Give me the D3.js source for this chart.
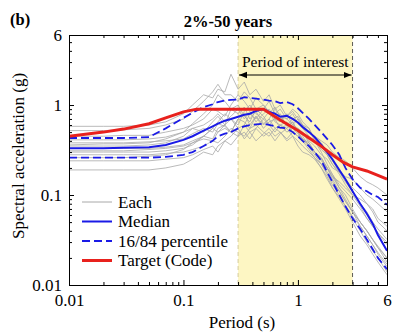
<!DOCTYPE html>
<html>
<head>
<meta charset="utf-8">
<script src="https://cdn.jsdelivr.net/npm/d3@7"></script>
<style>
  body { margin: 0; background: #fff; }
  svg text { font-family: "Liberation Serif", "DejaVu Serif", serif !important; fill: #000; }
</style>
</head>
<body>
<svg id="chart" width="395" height="333" font-family="Liberation Serif"></svg>
<script>
// periods (s) shared by every record, median and percentiles
var periods = [0.01, 0.02, 0.03, 0.05, 0.07, 0.1, 0.12, 0.15, 0.18, 0.2, 0.23, 0.26, 0.3, 0.34, 0.38, 0.43, 0.5, 0.56, 0.63, 0.7, 0.8, 0.9, 1, 1.1, 1.25, 1.4, 1.6, 1.8, 2, 2.3, 2.6, 3, 3.5, 4, 4.5, 5, 6];

var records = [
	[0.58, 0.58, 0.58, 0.6, 0.65, 0.8, 1.0, 1.3, 1.2, 1.5, 1.4, 2.2, 1.5, 1.8, 1.3, 1.5, 1.1, 1.3, 0.9, 1.0, 0.75, 0.85, 0.7, 0.6, 0.55, 0.42, 0.35, 0.28, 0.22, 0.18, 0.14, 0.11, 0.08, 0.065, 0.05, 0.042, 0.032],
	[0.52, 0.52, 0.53, 0.55, 0.6, 0.7, 0.85, 1.1, 1.4, 1.7, 1.3, 1.3, 1.1, 1.4, 1.2, 0.9, 1.0, 0.8, 0.95, 0.75, 0.7, 0.8, 0.62, 0.55, 0.5, 0.45, 0.4, 0.36, 0.3, 0.26, 0.24, 0.2, 0.16, 0.14, 0.13, 0.12, 0.1],
	[0.45, 0.45, 0.46, 0.46, 0.5, 0.55, 0.6, 0.7, 0.9, 0.85, 0.75, 1.0, 1.3, 1.1, 0.9, 1.2, 1.0, 0.85, 0.8, 0.9, 0.7, 0.6, 0.55, 0.5, 0.38, 0.3, 0.26, 0.2, 0.16, 0.12, 0.1, 0.07, 0.05, 0.04, 0.032, 0.026, 0.018],
	[0.41, 0.41, 0.41, 0.42, 0.44, 0.5, 0.55, 0.6, 0.7, 0.8, 0.65, 0.75, 0.9, 0.7, 0.85, 0.65, 0.8, 0.9, 0.7, 0.65, 0.8, 0.6, 0.7, 0.55, 0.45, 0.4, 0.32, 0.28, 0.22, 0.17, 0.13, 0.1, 0.075, 0.055, 0.045, 0.038, 0.03],
	[0.38, 0.38, 0.38, 0.39, 0.4, 0.42, 0.48, 0.55, 0.5, 0.62, 0.58, 0.5, 0.7, 0.8, 0.6, 0.75, 0.55, 0.65, 0.7, 0.55, 0.6, 0.5, 0.55, 0.45, 0.35, 0.3, 0.26, 0.2, 0.15, 0.11, 0.085, 0.065, 0.05, 0.04, 0.032, 0.027, 0.02],
	[0.35, 0.35, 0.35, 0.36, 0.38, 0.45, 0.55, 0.5, 0.65, 0.75, 0.6, 0.9, 1.0, 0.75, 0.65, 0.9, 0.75, 0.6, 0.72, 0.8, 0.58, 0.65, 0.5, 0.42, 0.38, 0.3, 0.24, 0.2, 0.16, 0.14, 0.12, 0.1, 0.09, 0.08, 0.07, 0.055, 0.045],
	[0.33, 0.33, 0.33, 0.33, 0.34, 0.36, 0.4, 0.45, 0.55, 0.5, 0.6, 0.7, 0.55, 0.6, 0.8, 0.7, 0.9, 1.1, 0.8, 0.7, 0.75, 0.9, 0.8, 0.65, 0.55, 0.4, 0.3, 0.22, 0.17, 0.12, 0.09, 0.065, 0.045, 0.035, 0.028, 0.022, 0.016],
	[0.31, 0.31, 0.31, 0.32, 0.33, 0.35, 0.38, 0.42, 0.4, 0.5, 0.55, 0.5, 0.45, 0.6, 0.5, 0.55, 0.7, 0.6, 0.5, 0.6, 0.65, 0.5, 0.45, 0.5, 0.4, 0.35, 0.28, 0.25, 0.2, 0.18, 0.16, 0.15, 0.12, 0.1, 0.09, 0.08, 0.065],
	[0.3, 0.3, 0.3, 0.3, 0.31, 0.33, 0.36, 0.45, 0.55, 0.65, 0.8, 0.7, 0.6, 0.85, 1.0, 0.8, 0.7, 0.85, 0.65, 0.6, 0.55, 0.65, 0.5, 0.42, 0.34, 0.28, 0.22, 0.17, 0.13, 0.1, 0.075, 0.055, 0.04, 0.03, 0.024, 0.02, 0.014],
	[0.28, 0.28, 0.28, 0.28, 0.29, 0.3, 0.32, 0.35, 0.4, 0.38, 0.45, 0.55, 0.5, 0.45, 0.55, 0.6, 0.5, 0.45, 0.55, 0.5, 0.4, 0.45, 0.35, 0.3, 0.28, 0.25, 0.2, 0.15, 0.12, 0.09, 0.07, 0.05, 0.035, 0.028, 0.022, 0.018, 0.013],
	[0.26, 0.26, 0.26, 0.27, 0.28, 0.32, 0.38, 0.45, 0.42, 0.55, 0.6, 0.5, 0.7, 0.65, 0.55, 0.75, 0.6, 0.7, 0.9, 0.75, 0.6, 0.7, 0.75, 0.6, 0.5, 0.45, 0.38, 0.3, 0.24, 0.18, 0.15, 0.12, 0.1, 0.08, 0.065, 0.05, 0.04],
	[0.24, 0.24, 0.24, 0.24, 0.25, 0.26, 0.28, 0.32, 0.35, 0.3, 0.4, 0.45, 0.55, 0.42, 0.5, 0.4, 0.48, 0.55, 0.45, 0.5, 0.42, 0.5, 0.45, 0.4, 0.32, 0.26, 0.2, 0.16, 0.12, 0.095, 0.075, 0.058, 0.045, 0.035, 0.028, 0.023, 0.017],
	[0.19, 0.19, 0.19, 0.19, 0.2, 0.22, 0.25, 0.3, 0.28, 0.35, 0.4, 0.36, 0.45, 0.5, 0.42, 0.55, 0.45, 0.5, 0.4, 0.48, 0.55, 0.45, 0.4, 0.35, 0.3, 0.26, 0.22, 0.18, 0.14, 0.11, 0.085, 0.065, 0.05, 0.04, 0.032, 0.026, 0.02],
	[0.36, 0.37, 0.37, 0.38, 0.42, 0.5, 0.62, 0.8, 1.0, 1.3, 1.1, 0.9, 0.8, 0.95, 0.7, 0.85, 0.62, 0.7, 0.55, 0.6, 0.5, 0.55, 0.48, 0.42, 0.36, 0.3, 0.25, 0.2, 0.17, 0.13, 0.11, 0.09, 0.07, 0.055, 0.045, 0.038, 0.028]
];

var median = [0.33, 0.33, 0.335, 0.34, 0.36, 0.41, 0.45, 0.52, 0.58, 0.62, 0.67, 0.7, 0.74, 0.78, 0.8, 0.86, 0.9, 0.84, 0.8, 0.74, 0.76, 0.7, 0.64, 0.57, 0.5, 0.44, 0.36, 0.3, 0.25, 0.19, 0.15, 0.11, 0.08, 0.062, 0.048, 0.036, 0.024];
var p84 = [0.43, 0.43, 0.43, 0.44, 0.55, 0.72, 0.82, 0.95, 1.02, 1.08, 1.12, 1.14, 1.15, 1.22, 1.2, 1.18, 1.15, 1.12, 1.1, 1.05, 1.08, 1.02, 0.92, 0.82, 0.7, 0.6, 0.5, 0.42, 0.36, 0.28, 0.2, 0.15, 0.12, 0.11, 0.1, 0.095, 0.078];
var p16 = [0.26, 0.26, 0.26, 0.26, 0.265, 0.28, 0.3, 0.35, 0.4, 0.45, 0.48, 0.5, 0.55, 0.58, 0.6, 0.61, 0.62, 0.6, 0.58, 0.56, 0.55, 0.5, 0.45, 0.4, 0.35, 0.3, 0.24, 0.18, 0.14, 0.1, 0.075, 0.055, 0.042, 0.032, 0.025, 0.02, 0.015];

var targetPeriods = [0.01, 0.02, 0.03, 0.05, 0.07, 0.1, 0.13, 0.5, 0.7, 1, 1.5, 2, 2.5, 3, 4, 5, 6];
var target = [0.45, 0.5, 0.54, 0.62, 0.72, 0.84, 0.9, 0.9, 0.68, 0.52, 0.37, 0.28, 0.23, 0.205, 0.185, 0.165, 0.15];

var interest = [0.3, 3];
var xTicks = [0.01, 0.1, 1, 6];
var yTicks = [0.01, 0.1, 1, 6];
var legendLabels = ["Each", "Median", "16/84 percentile", "Target (Code)"];

var serif = "Liberation Serif, DejaVu Serif, serif";
var margin = {left: 69, right: 8, top: 35, bottom: 48};
var width = 395 - margin.left - margin.right;
var height = 333 - margin.top - margin.bottom;

var svg = d3.select("#chart");
var g = svg.append("g").attr("transform", "translate(" + margin.left + "," + margin.top + ")");

var x = d3.scaleLog().domain([0.01, 6]).range([0, width]);
var y = d3.scaleLog().domain([0.01, 6]).range([height, 0]);

svg.append("defs").append("clipPath").attr("id", "plotclip")
	.append("rect").attr("width", width).attr("height", height);

// period of interest band
g.append("rect")
	.attr("x", x(interest[0]))
	.attr("y", 0)
	.attr("width", x(interest[1]) - x(interest[0]))
	.attr("height", height)
	.attr("fill", "#fdf6c3");
g.append("line")
	.attr("x1", x(interest[0])).attr("x2", x(interest[0]))
	.attr("y1", 0).attr("y2", height)
	.attr("stroke", "#c9c08a").attr("stroke-width", 0.8).attr("stroke-dasharray", "4,3");
g.append("line")
	.attr("x1", x(interest[1])).attr("x2", x(interest[1]))
	.attr("y1", 0).attr("y2", height)
	.attr("stroke", "#333").attr("stroke-width", 0.8).attr("stroke-dasharray", "4,3");

var line = d3.line()
	.x(function(d) { return x(d[0]); })
	.y(function(d) { return y(d[1]); });

function pairs(ps, vs) {
	return ps.map(function(p, i) { return [p, vs[i]]; });
}

var curves = g.append("g").attr("clip-path", "url(#plotclip)");

curves.selectAll(".each")
	.data(records)
	.enter().append("path")
	.attr("class", "each")
	.attr("d", function(r) { return line(pairs(periods, r)); })
	.attr("fill", "none")
	.attr("stroke", "#a8a8a8")
	.attr("stroke-width", 0.8);

[p84, p16].forEach(function(s) {
	curves.append("path")
		.attr("d", line(pairs(periods, s)))
		.attr("fill", "none")
		.attr("stroke", "#1a1ae6")
		.attr("stroke-width", 1.8)
		.attr("stroke-dasharray", "8,4");
});

curves.append("path")
	.attr("d", line(pairs(periods, median)))
	.attr("fill", "none")
	.attr("stroke", "#1a1ae6")
	.attr("stroke-width", 2);

curves.append("path")
	.attr("d", line(pairs(targetPeriods, target)))
	.attr("fill", "none")
	.attr("stroke", "#e8211d")
	.attr("stroke-width", 3);

// axes, ticks inward on all four sides
var minor = function(s) {
	var out = [];
	var d = s.domain();
	for (var e = -2; e <= 0; e++) {
		for (var k = 2; k <= 9; k++) {
			var v = k * Math.pow(10, e);
			if (v >= d[0] && v < d[1]) out.push(v);
		}
	}
	return out;
};

function drawAxis(axis, transform, withLabels) {
	var a = g.append("g").attr("transform", transform).call(axis);
	a.attr("font-family", serif);
	a.select(".domain").attr("stroke", "#000");
	a.selectAll(".tick line").attr("stroke", "#000");
	if (!withLabels) a.selectAll("text").remove();
	a.selectAll("text").attr("font-size", 17).attr("font-family", serif);
	return a;
}

var fmt = function(d) { return String(d); };

drawAxis(d3.axisBottom(x).tickValues(xTicks).tickFormat(fmt).tickSizeInner(-5).tickSizeOuter(0).tickPadding(9), "translate(0," + height + ")", true);
drawAxis(d3.axisBottom(x).tickValues(minor(x)).tickSizeInner(-3).tickSizeOuter(0), "translate(0," + height + ")", false);
drawAxis(d3.axisTop(x).tickValues(xTicks).tickSizeInner(-5).tickSizeOuter(0), "translate(0,0)", false);
drawAxis(d3.axisTop(x).tickValues(minor(x)).tickSizeInner(-3).tickSizeOuter(0), "translate(0,0)", false);

drawAxis(d3.axisLeft(y).tickValues(yTicks).tickFormat(fmt).tickSizeInner(-5).tickSizeOuter(0).tickPadding(7), "translate(0,0)", true);
drawAxis(d3.axisLeft(y).tickValues(minor(y)).tickSizeInner(-3).tickSizeOuter(0), "translate(0,0)", false);
drawAxis(d3.axisRight(y).tickValues(yTicks).tickSizeInner(-5).tickSizeOuter(0), "translate(" + width + ",0)", false);
drawAxis(d3.axisRight(y).tickValues(minor(y)).tickSizeInner(-3).tickSizeOuter(0), "translate(" + width + ",0)", false);

// period of interest annotation
g.append("text")
	.attr("x", (x(interest[0]) + x(interest[1])) / 2)
	.attr("y", 32)
	.attr("text-anchor", "middle")
	.attr("font-family", serif)
	.attr("font-size", 15.5)
	.text("Period of interest");

var defs = svg.select("defs");
defs.append("marker")
	.attr("id", "arrowhead")
	.attr("viewBox", "0 -5 10 10")
	.attr("refX", 10)
	.attr("refY", 0)
	.attr("markerWidth", 8)
	.attr("markerHeight", 8)
	.attr("markerUnits", "userSpaceOnUse")
	.attr("orient", "auto-start-reverse")
	.append("path")
	.attr("d", "M0,-4L10,0L0,4Z")
	.attr("fill", "#000");

g.append("line")
	.attr("x1", x(interest[0]) + 1).attr("x2", x(interest[1]) - 1)
	.attr("y1", 40).attr("y2", 40)
	.attr("stroke", "#000").attr("stroke-width", 1)
	.attr("marker-start", "url(#arrowhead)")
	.attr("marker-end", "url(#arrowhead)");

// legend
var legend = g.append("g").attr("transform", "translate(13,167)");
var legendStyles = [
	{stroke: "#a8a8a8", width: 1, dash: null},
	{stroke: "#1a1ae6", width: 2, dash: null},
	{stroke: "#1a1ae6", width: 1.8, dash: "8,4"},
	{stroke: "#e8211d", width: 3, dash: null}
];
legendLabels.forEach(function(lbl, i) {
	var row = legend.append("g").attr("transform", "translate(0," + i * 19.5 + ")");
	row.append("line")
		.attr("x1", 0).attr("x2", 30)
		.attr("y1", 0).attr("y2", 0)
		.attr("stroke", legendStyles[i].stroke)
		.attr("stroke-width", legendStyles[i].width)
		.attr("stroke-dasharray", legendStyles[i].dash);
	row.append("text")
		.attr("x", 36)
		.attr("y", 5.5)
		.attr("font-family", serif)
		.attr("font-size", 17)
		.text(lbl);
});

// titles
svg.append("text")
	.attr("x", margin.left + width / 2)
	.attr("y", 27)
	.attr("text-anchor", "middle")
	.attr("font-family", serif)
	.attr("font-size", 16.5)
	.attr("font-weight", "bold")
	.text("2%-50 years");

svg.append("text")
	.attr("x", 10)
	.attr("y", 25)
	.attr("font-family", serif)
	.attr("font-size", 16.5)
	.attr("font-weight", "bold")
	.text("(b)");

svg.append("text")
	.attr("x", 242)
	.attr("y", 328)
	.attr("text-anchor", "middle")
	.attr("font-family", serif)
	.attr("font-size", 17)
	.text("Period (s)");

svg.append("text")
	.attr("transform", "translate(24,156) rotate(-90)")
	.attr("text-anchor", "middle")
	.attr("font-family", serif)
	.attr("font-size", 17)
	.text("Spectral acceleration (g)");
</script>
</body>
</html>
